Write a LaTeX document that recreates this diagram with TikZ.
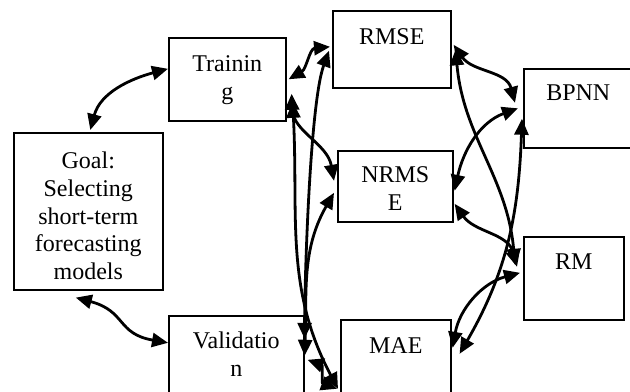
\documentclass[tikz,border=0pt]{standalone}
\usepackage{fontspec}
\setmainfont{Liberation Serif}
\usetikzlibrary{arrows.meta}

\begin{document}
\begin{tikzpicture}[x=0.5pt, y=0.5pt, font=\fontsize{12}{13.8}\selectfont, >={Triangle[length=8pt,width=7pt]}]
    \tikzstyle{box}=[rectangle, draw, line width=0.8pt, inner sep=0, align=center, anchor=north west]
    \tikzstyle{link}=[<->, line width=1.4pt]

    \useasboundingbox (0,0) rectangle (630,-391);

    \node[box, text width=74.5pt, text height=18pt, text depth=60.5pt] (goal) at (13,-132) {Goal:\\Selecting\\short-term\\forecasting\\models};
    \node[box, text width=58.5pt, text height=16.85pt, text depth=24.65pt] (training) at (168,-37) {Trainin\\g};
    \node[box, text width=67.5pt, text height=16.5pt, text depth=23.5pt] (validation) at (168,-315) {Validatio\\n};
    \node[box, text width=59pt, text height=17pt, text depth=21.5pt] (rmse) at (332,-10) {RMSE};
    \node[box, text width=57.5pt, text height=16pt, text depth=19.5pt] (nrmse) at (337,-150) {NRMS\\E};
    \node[box, text width=55pt, text height=17pt, text depth=21pt] (mae) at (340,-319) {MAE};
    \node[box, text width=54.5pt, text height=16pt, text depth=23.5pt] (bpnn) at (523,-68) {BPNN};
    \node[box, text width=50pt, text height=16.5pt, text depth=25pt] (rm) at (523,-236) {RM};

    \path[link] ([xshift=1pt,yshift=1pt]goal.north) edge[out=75, in=195] ([yshift=5.25pt]training.west);
    \path[link] ([xshift=-6.25pt,yshift=-3.5pt]goal.south) edge[out=-15, in=170, looseness=1.3] ([yshift=6.5pt]validation.west);

    \path[link] ([xshift=1pt]training.east) edge[out=30, in=185] ([xshift=-1pt,yshift=1.25pt]rmse.west);
    \path[link] ([xshift=2.5pt,yshift=-7.25pt]training.east) edge[out=-88, in=100] ([xshift=-1.5pt,yshift=2.75pt]nrmse.west);
    \path[link] ([xshift=3pt,yshift=-11.25pt]training.east) edge[out=-87, in=118] ([xshift=-1pt,yshift=-15.5pt]mae.west);
    \path[link] ([yshift=8.5pt]validation.east) edge[out=90, in=250, looseness=0.5] ([xshift=-1.5pt,yshift=-0.75pt]rmse.west);
    \path[link] (validation.east) edge[out=88, in=240] ([xshift=-1.5pt,yshift=-3.25pt]nrmse.west);
    \path[link] ([xshift=1.5pt,yshift=-2pt]validation.east) edge[out=-20, in=160] ([xshift=-1.5pt,yshift=-15.5pt]mae.west);

    \path[link] ([xshift=1pt,yshift=2.25pt]rmse.east) edge[out=-55, in=105] ([xshift=-4pt,yshift=2.75pt]bpnn.west);
    \path[link] ([xshift=2pt]rmse.east) edge[out=-85, in=95] ([xshift=-4pt,yshift=6.75pt]rm.west);
    \path[link] ([xshift=0.5pt,yshift=-2.25pt]nrmse.east) edge[out=78, in=200] ([xshift=-2.5pt]bpnn.west);
    \path[link] ([xshift=0.5pt,yshift=-8.75pt]nrmse.east) edge[out=-55, in=105] ([xshift=-3pt,yshift=5.75pt]rm.west);
    \path[link] ([xshift=-0.5pt,yshift=-5.25pt]bpnn.west) edge[out=-92, in=60] ([xshift=4pt,yshift=2pt]mae.east);
    \path[link] ([xshift=-1.5pt,yshift=2.75pt]rm.west) edge[out=195, in=80] ([xshift=0.5pt,yshift=5pt]mae.east);
\end{tikzpicture}
\end{document}
